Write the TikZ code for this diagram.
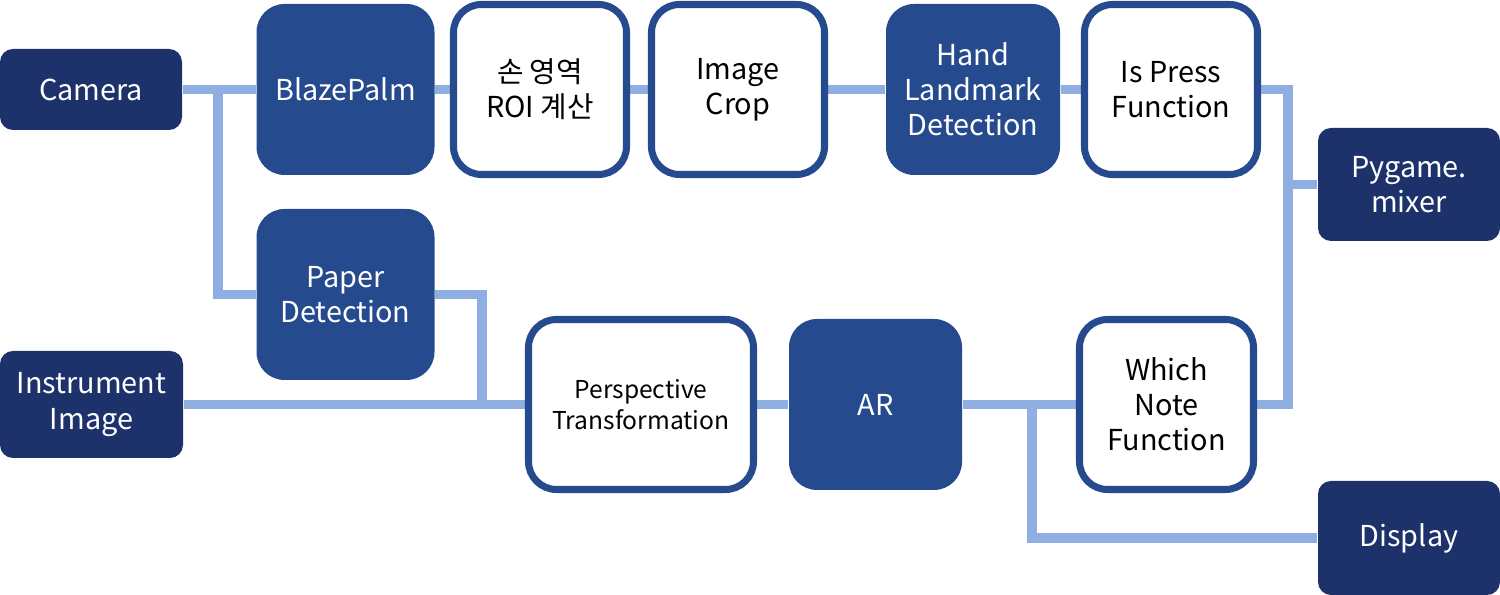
\documentclass[tikz,border=0pt]{standalone}
\usepackage{fontspec}
\setmainfont{Noto Sans CJK KR}
\usetikzlibrary{positioning, backgrounds}

\definecolor{navy}{HTML}{1D316A}
\definecolor{midblue}{HTML}{264A8E}
\definecolor{wireblue}{HTML}{8FAEE2}

\begin{document}
\begin{tikzpicture}[
    every node/.style={align=center, inner sep=0pt, font=\fontsize{8.2}{10}\selectfont},
    src/.style={fill=navy, text=white, rounded corners=0.13cm},
    proc/.style={fill=midblue, text=white, rounded corners=0.28cm, minimum width=1.78cm, minimum height=1.71cm},
    func/.style={draw=midblue, line width=2pt, fill=white, text=black, rounded corners=0.28cm, minimum width=1.73cm, minimum height=1.70cm},
    wire/.style={draw=wireblue, line width=2.6pt}
]
\useasboundingbox (0,0) rectangle (15,5.95);

% Top row: hand tracking
\node[src, minimum width=1.82cm, minimum height=0.81cm] (cam) at (0.91,5.055) {Camera};
\node[proc] (blaze) at (3.455,5.055) {BlazePalm};
\node[func] (roi) at (5.40,5.055) {손 영역\\ROI 계산};
\node[func] (crop) at (7.38,5.055) {Image\\Crop};
\node[proc, minimum width=1.74cm] (hand) at (9.73,5.055) {Hand\\Landmark\\Detection};
\node[func] (press) at (11.71,5.055) {Is Press\\Function};
\node[src, minimum width=1.82cm, minimum height=1.13cm] (mixer) at (14.09,4.105) {Pygame.\\mixer};

% Bottom row: paper and AR
\node[proc] (paper) at (3.455,3.005) {Paper\\Detection};
\node[src, minimum width=1.83cm, minimum height=1.07cm] (inst) at (0.915,1.905) {Instrument\\Image};
\node[func, minimum width=2.25cm, font=\fontsize{7}{8.8}\selectfont] (persp) at (6.41,1.905) {Perspective\\Transformation};
\node[proc, minimum width=1.73cm] (ar) at (8.755,1.905) {AR};
\node[func, minimum width=1.74cm] (which) at (11.665,1.905) {Which\\Note\\Function};
\node[src, minimum width=1.82cm, minimum height=1.14cm] (disp) at (14.09,0.57) {Display};

% Split points of the wires
\coordinate (camsplit) at (2.18,5.055);
\coordinate (merge) at (4.82,1.905);
\coordinate (mixsplit) at (12.88,4.105);
\coordinate (dispsplit) at (10.32,1.905);

% Connectors
\begin{scope}[on background layer]
    \draw[wire] (cam.east) -- (blaze.west);
    \draw[wire] (camsplit) |- (paper.west);
    \draw[wire] (paper.east) -| (merge);
    \draw[wire] (inst.east) -- (persp.west);
    \draw[wire] (blaze.east) -- (roi.west);
    \draw[wire] (roi.east) -- (crop.west);
    \draw[wire] (crop.east) -- (hand.west);
    \draw[wire] (hand.east) -- (press.west);
    \draw[wire] (press.east) -| (mixsplit) |- (which.east);
    \draw[wire] (mixsplit) -- (mixer.west);
    \draw[wire] (persp.east) -- (ar.west);
    \draw[wire] (ar.east) -- (which.west);
    \draw[wire] (dispsplit) |- (disp.west);
\end{scope}

\end{tikzpicture}
\end{document}
